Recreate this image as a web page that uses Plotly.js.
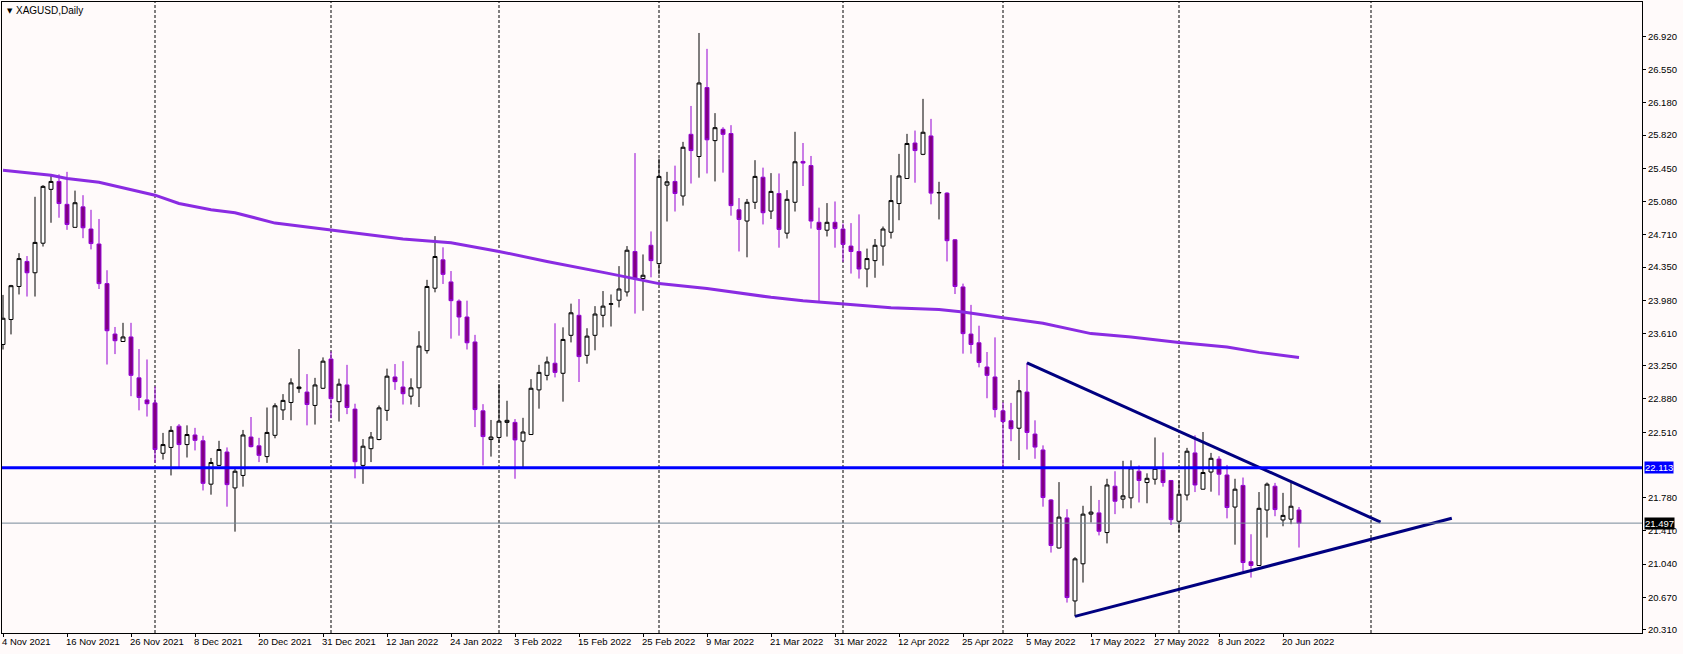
<!DOCTYPE html>
<html>
<head>
<meta charset="utf-8">
<script src="https://cdn.plot.ly/plotly-3.0.1.min.js"></script>
<style>
html,body{margin:0;padding:0;background:#fffafa;}
#chart{width:1683px;height:654px;}
</style>
</head>
<body>
<div id="chart"></div>
<script>
// ---- Data (XAGUSD daily, bar index 0 = 4 Nov 2021) ----
const open = [23.487,23.765,24.133,24.412,24.286,24.615,25.215,25.303,25.048,24.792,25.020,24.773,24.606,24.165,23.603,23.520,23.571,23.115,22.869,22.836,
22.275,22.340,22.577,22.372,22.479,22.414,21.931,22.140,22.289,21.889,22.028,22.456,22.358,22.238,22.475,22.758,22.841,22.995,22.957,22.808,
22.999,23.325,22.850,23.036,22.767,22.140,22.326,22.428,22.753,23.125,23.013,22.911,23.004,23.418,24.114,24.430,24.184,23.970,23.793,23.515,
22.748,22.428,22.451,22.619,22.619,22.410,22.484,22.981,23.143,23.278,23.166,23.589,23.812,23.366,23.589,23.812,23.935,23.980,24.072,24.523,
24.221,24.592,24.388,25.262,25.303,25.141,25.828,25.581,26.349,25.758,25.884,25.837,24.987,24.862,25.071,25.350,24.973,25.169,24.727,25.071,
25.526,25.480,24.848,24.760,24.848,24.773,24.583,24.523,24.328,24.421,24.583,24.737,25.057,25.336,25.731,25.605,25.810,25.175,25.173,24.653,
24.128,23.603,23.506,23.236,23.125,22.748,22.637,22.554,22.957,22.489,22.312,21.755,21.220,21.555,20.630,21.044,21.597,21.611,21.392,21.908,
21.764,21.778,22.075,21.949,21.986,22.089,21.972,21.518,21.810,22.279,21.875,22.066,22.210,22.033,21.676,21.917,21.067,21.025,21.643,21.908,
21.532,21.541,21.643];
const high = [24.039,24.151,24.504,24.472,25.132,25.262,25.382,25.382,25.410,25.201,25.150,24.987,24.885,24.314,23.682,23.728,23.728,23.436,23.320,23.018,
22.502,22.577,22.600,22.586,22.558,22.470,22.223,22.414,22.340,22.103,22.535,22.679,22.447,22.785,22.832,22.934,23.110,23.436,23.157,23.115,
23.343,23.408,23.106,23.260,22.827,22.433,22.512,22.808,23.218,23.269,23.301,23.110,23.635,24.207,24.694,24.569,24.305,23.989,23.975,23.594,
22.822,22.646,23.045,22.860,22.656,22.670,23.101,23.260,23.352,23.723,23.678,23.942,23.993,23.668,23.914,24.082,24.044,24.360,24.583,25.619,
24.490,24.746,25.558,25.410,25.479,25.744,26.144,26.957,26.780,26.064,25.907,25.930,25.118,25.108,25.540,25.457,25.396,25.392,25.206,25.856,
25.731,25.587,25.011,25.062,25.080,24.834,24.839,24.936,24.555,24.662,24.801,25.373,25.610,25.833,25.870,26.223,26.000,25.299,25.183,24.662,
24.165,23.928,23.696,23.403,23.566,22.841,22.836,23.092,23.283,22.642,22.363,21.764,21.954,21.652,21.118,21.690,21.912,21.755,21.991,22.075,
22.191,22.196,22.140,22.052,22.451,22.284,21.975,21.972,22.335,22.475,22.512,22.279,22.242,22.145,21.991,22.005,21.373,21.843,21.949,21.945,
21.834,21.945,21.676];
const low = [23.431,23.599,24.044,24.021,24.021,24.578,24.843,24.899,24.764,24.792,24.671,24.546,24.105,23.264,23.380,23.515,22.911,22.753,22.684,22.168,
22.205,22.028,22.112,22.228,22.307,21.861,21.814,22.135,21.680,21.402,21.903,22.340,22.177,22.168,22.442,22.646,22.642,22.948,22.586,22.595,
22.990,22.665,22.628,22.711,21.996,21.935,22.177,22.420,22.637,22.981,22.818,22.818,22.790,23.385,24.068,24.161,23.552,23.585,23.431,22.567,
22.140,22.238,22.391,22.461,21.991,22.103,22.480,22.772,23.087,23.120,22.850,23.510,23.069,23.273,23.422,23.678,23.687,23.900,24.021,23.831,
23.863,24.235,24.268,24.857,24.968,25.034,25.280,25.345,25.392,25.303,25.401,24.922,24.523,24.458,24.996,24.824,24.885,24.565,24.667,24.968,
25.252,24.778,23.970,24.690,24.565,24.407,24.277,24.221,24.124,24.230,24.365,24.667,24.871,25.330,25.289,25.596,25.048,24.880,24.412,24.049,
23.385,23.385,23.232,22.888,22.674,22.112,22.410,22.200,22.317,22.214,21.680,21.169,21.215,20.612,20.458,20.835,21.504,21.360,21.271,21.597,
21.662,21.662,21.727,21.718,21.926,21.903,21.476,21.397,21.750,21.843,21.870,21.847,21.806,21.550,21.257,20.960,20.890,21.020,21.336,21.574,
21.462,21.485,21.225];
const close = [23.779,24.142,24.444,24.286,24.624,25.248,25.303,25.057,24.824,25.066,24.787,24.611,24.165,23.640,23.529,23.571,23.143,22.897,22.827,22.317,
22.372,22.530,22.372,22.484,22.419,21.940,22.172,22.317,21.926,22.075,22.479,22.349,22.252,22.507,22.804,22.864,23.059,23.013,22.818,23.036,
23.301,22.883,23.045,22.785,22.181,22.354,22.456,22.781,23.134,23.073,22.939,23.004,23.469,24.133,24.467,24.268,23.975,23.793,23.506,22.762,
22.461,22.456,22.633,22.642,22.424,22.512,22.999,23.176,23.292,23.176,23.543,23.840,23.352,23.580,23.826,23.914,23.940,24.105,24.537,24.216,
24.258,24.421,25.359,25.299,25.169,25.684,25.647,26.400,25.767,25.902,25.828,25.034,24.880,25.071,25.359,24.955,25.192,24.769,25.104,25.522,
25.508,24.862,24.769,24.848,24.778,24.602,24.523,24.328,24.444,24.592,24.773,25.090,25.364,25.726,25.647,25.851,25.173,25.180,24.643,24.133,
23.608,23.487,23.287,23.143,22.762,22.628,22.549,22.971,22.507,22.344,21.782,21.248,21.564,20.668,21.099,21.597,21.620,21.406,21.922,21.741,
21.801,22.112,21.972,21.996,22.107,21.949,21.536,21.819,22.298,21.922,22.061,22.219,22.042,21.671,21.875,21.058,21.025,21.662,21.931,21.648,
21.583,21.685,21.497];

// Moving average (at these bar indices)
const maBars   = [0,6,8,12,19,22,26,29,34,41,46,50,54,56,62,68,75.5,80,82,88,91,96,100,102,105,111,117,120,125,130,136,141,147,153,157,162];
const maValues = [25.429,25.373,25.336,25.294,25.150,25.057,24.987,24.955,24.839,24.764,24.713,24.662,24.634,24.620,24.523,24.412,24.282,24.203,24.165,24.110,24.072,24.012,23.975,23.961,23.938,23.896,23.877,23.849,23.784,23.724,23.608,23.571,23.510,23.459,23.399,23.343];

// Drawn objects
const resistanceLevel = 22.113;
const lastPrice = 21.497;
const upperTrendBars = [128, 172.2];
const upperTrendPrices = [23.283, 21.509];
const lowerTrendBars = [134, 181.1];
const lowerTrendPrices = [20.458, 21.551];

// Axis labels
const priceTicks = [26.92,26.55,26.18,25.82,25.45,25.08,24.71,24.35,23.98,23.61,23.25,22.88,22.51,21.78,21.41,21.04,20.67,20.31];
const dateLabels = ["4 Nov 2021","16 Nov 2021","26 Nov 2021","8 Dec 2021","20 Dec 2021","31 Dec 2021","12 Jan 2022","24 Jan 2022","3 Feb 2022","15 Feb 2022","25 Feb 2022","9 Mar 2022","21 Mar 2022","31 Mar 2022","12 Apr 2022","25 Apr 2022","5 May 2022","17 May 2022","27 May 2022","8 Jun 2022","20 Jun 2022"];
const dateLabelBars = dateLabels.map((_, i) => i * 8);
const monthStartBars = [19, 41, 62, 82, 105, 125, 147, 171];

const FONT = "Liberation Sans, Arial, sans-serif";
const xIdx = open.map((_, i) => i);

const traces = [
  {
    type: 'candlestick', x: xIdx, open: open, high: high, low: low, close: close,
    increasing: {line: {color: '#000000', width: 1}, fillcolor: '#ffffff'},
    decreasing: {line: {color: '#9400d3', width: 1}, fillcolor: '#800080'},
    whiskerwidth: 0, hoverinfo: 'skip', showlegend: false
  },
  {
    type: 'scatter', mode: 'lines', x: maBars, y: maValues,
    line: {color: '#8a2be2', width: 3}, hoverinfo: 'skip', showlegend: false
  },
  {
    type: 'scatter', mode: 'lines', x: upperTrendBars, y: upperTrendPrices,
    line: {color: '#000080', width: 3}, hoverinfo: 'skip', showlegend: false
  },
  {
    type: 'scatter', mode: 'lines', x: lowerTrendBars, y: lowerTrendPrices,
    line: {color: '#000080', width: 3}, hoverinfo: 'skip', showlegend: false
  }
];

const shapes = monthStartBars.map(b => ({
  type: 'line', xref: 'x', yref: 'paper', x0: b, x1: b, y0: 0, y1: 1,
  line: {color: '#000000', width: 1, dash: '3px,2px'}, layer: 'below'
}));
shapes.push({type: 'line', xref: 'paper', yref: 'y', x0: 0, x1: 1, y0: lastPrice, y1: lastPrice,
  line: {color: '#778899', width: 1}, layer: 'above'});
shapes.push({type: 'line', xref: 'paper', yref: 'y', x0: 0, x1: 1, y0: resistanceLevel, y1: resistanceLevel,
  line: {color: '#0000ff', width: 3}, layer: 'above'});

const annotations = dateLabels.map((t, i) => ({
  text: t, xref: 'x', yref: 'paper', x: dateLabelBars[i], y: 0,
  xanchor: 'left', yanchor: 'top', xshift: -3, yshift: -1, showarrow: false,
  font: {family: FONT, size: 9.5, color: '#000000'}
}));
annotations.push({
  text: resistanceLevel.toFixed(3), xref: 'paper', yref: 'y', x: 1, y: resistanceLevel,
  xanchor: 'left', yanchor: 'middle', xshift: 2, showarrow: false,
  bgcolor: '#0000ff', borderpad: 0, font: {family: FONT, size: 9.5, color: '#ffffff'}
});
annotations.push({
  text: lastPrice.toFixed(3), xref: 'paper', yref: 'y', x: 1, y: lastPrice,
  xanchor: 'left', yanchor: 'middle', xshift: 2, showarrow: false,
  bgcolor: '#000000', borderpad: 0, font: {family: FONT, size: 9.5, color: '#ffffff'}
});
annotations.push({
  text: '▼', xref: 'paper', yref: 'paper', x: 0, y: 1, xanchor: 'left', yanchor: 'top',
  xshift: 3, yshift: -3, showarrow: false, font: {family: 'DejaVu Sans', size: 7, color: '#000000'}
});
annotations.push({
  text: 'XAGUSD,Daily', xref: 'paper', yref: 'paper', x: 0, y: 1, xanchor: 'left', yanchor: 'top',
  xshift: 12, yshift: -1, showarrow: false, font: {family: FONT, size: 10, color: '#000000'}
});

const layout = {
  width: 1683, height: 654,
  margin: {l: 2, r: 41, t: 2, b: 21, pad: 0},
  paper_bgcolor: '#fffafa', plot_bgcolor: '#fffafa',
  showlegend: false, hovermode: false,
  xaxis: {
    type: 'linear', range: [-0.125, 204.875], rangeslider: {visible: false},
    showgrid: false, zeroline: false, showline: true, mirror: true, linecolor: '#000000', linewidth: 1,
    tickmode: 'array', tickvals: dateLabelBars, showticklabels: false,
    ticks: 'outside', ticklen: 3, tickcolor: '#000000', tickwidth: 1, fixedrange: true
  },
  yaxis: {
    side: 'right', range: [20.273, 27.302],
    showgrid: false, zeroline: false, showline: true, mirror: true, linecolor: '#000000', linewidth: 1,
    tickmode: 'array', tickvals: priceTicks, ticktext: priceTicks.map(v => v.toFixed(3)),
    ticks: 'outside', ticklen: 3, tickcolor: '#000000', tickwidth: 1,
    tickfont: {family: FONT, size: 9.5, color: '#000000'}, automargin: false, fixedrange: true
  },
  shapes: shapes,
  annotations: annotations
};

Plotly.newPlot('chart', traces, layout, {staticPlot: true, displayModeBar: false});
</script>
</body>
</html>
